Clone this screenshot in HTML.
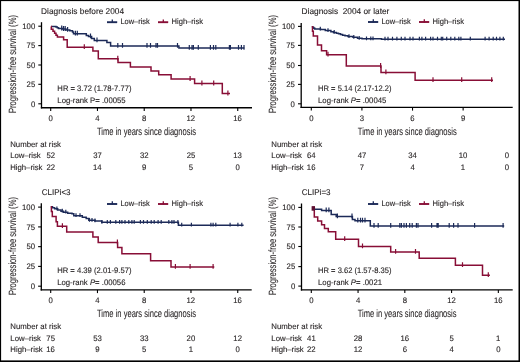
<!DOCTYPE html>
<html><head><meta charset="utf-8"><style>
html,body{margin:0;padding:0;background:#fff;overflow:hidden;}
svg{display:block;will-change:transform;text-rendering:geometricPrecision;}
text.ax{stroke-width:0.08px;}
text{stroke:#231f20;stroke-width:0.12px;paint-order:stroke;font-family:"Liberation Sans",sans-serif;}
</style></head><body>
<svg width="520" height="362" viewBox="0 0 520 362">
<rect x="0" y="0" width="520" height="362" fill="#fff"/>
<line x1="41.50" y1="22.20" x2="41.50" y2="108.40" stroke="#000" stroke-width="1.3"/>
<line x1="40.85" y1="107.75" x2="252.00" y2="107.75" stroke="#000" stroke-width="1.3"/>
<line x1="38.30" y1="26.20" x2="41.50" y2="26.20" stroke="#000" stroke-width="1.1"/>
<text x="22.27" y="28.90" font-size="8.0" fill="#231f20" textLength="12.93" lengthAdjust="spacingAndGlyphs">100</text>
<line x1="38.30" y1="45.60" x2="41.50" y2="45.60" stroke="#000" stroke-width="1.1"/>
<text x="26.60" y="48.30" font-size="8.0" fill="#231f20" textLength="8.62" lengthAdjust="spacingAndGlyphs">75</text>
<line x1="38.30" y1="65.00" x2="41.50" y2="65.00" stroke="#000" stroke-width="1.1"/>
<text x="26.58" y="67.70" font-size="8.0" fill="#231f20" textLength="8.62" lengthAdjust="spacingAndGlyphs">50</text>
<line x1="38.30" y1="84.30" x2="41.50" y2="84.30" stroke="#000" stroke-width="1.1"/>
<text x="26.60" y="87.00" font-size="8.0" fill="#231f20" textLength="8.62" lengthAdjust="spacingAndGlyphs">25</text>
<line x1="38.30" y1="103.80" x2="41.50" y2="103.80" stroke="#000" stroke-width="1.1"/>
<text x="30.89" y="106.50" font-size="8.0" fill="#231f20" textLength="4.31" lengthAdjust="spacingAndGlyphs">0</text>
<line x1="50.70" y1="107.75" x2="50.70" y2="110.95" stroke="#000" stroke-width="1.1"/>
<text x="48.54" y="120.85" font-size="8.0" fill="#231f20" textLength="4.31" lengthAdjust="spacingAndGlyphs">0</text>
<line x1="97.46" y1="107.75" x2="97.46" y2="110.95" stroke="#000" stroke-width="1.1"/>
<text x="95.33" y="120.85" font-size="8.0" fill="#231f20" textLength="4.31" lengthAdjust="spacingAndGlyphs">4</text>
<line x1="144.22" y1="107.75" x2="144.22" y2="110.95" stroke="#000" stroke-width="1.1"/>
<text x="142.07" y="120.85" font-size="8.0" fill="#231f20" textLength="4.31" lengthAdjust="spacingAndGlyphs">8</text>
<line x1="190.98" y1="107.75" x2="190.98" y2="110.95" stroke="#000" stroke-width="1.1"/>
<text x="186.57" y="120.85" font-size="8.0" fill="#231f20" textLength="8.62" lengthAdjust="spacingAndGlyphs">12</text>
<line x1="237.74" y1="107.75" x2="237.74" y2="110.95" stroke="#000" stroke-width="1.1"/>
<text x="233.30" y="120.85" font-size="8.0" fill="#231f20" textLength="8.62" lengthAdjust="spacingAndGlyphs">16</text>
<text x="41.12" y="14.00" font-size="8.4" fill="#231f20" textLength="82.92" lengthAdjust="spacingAndGlyphs">Diagnosis before 2004</text>
<text x="97.03" y="134.50" font-size="10.5" fill="#231f20" textLength="98.94" lengthAdjust="spacingAndGlyphs" class="ax">Time in years since diagnosis</text>
<text transform="translate(15.90,112.98) rotate(-90)" x="0" y="0" font-size="10.5" fill="#231f20" textLength="97.89" lengthAdjust="spacingAndGlyphs" class="ax">Progression-free survival (%)</text>
<line x1="107.00" y1="22.20" x2="117.20" y2="22.20" stroke="#1c2a58" stroke-width="1.9"/>
<line x1="112.30" y1="19.40" x2="112.30" y2="22.80" stroke="#1c2a58" stroke-width="1.3"/>
<text x="120.39" y="23.70" font-size="8.0" fill="#231f20" textLength="29.39" lengthAdjust="spacingAndGlyphs">Low–risk</text>
<line x1="158.00" y1="22.20" x2="168.20" y2="22.20" stroke="#880e36" stroke-width="1.9"/>
<line x1="163.30" y1="19.40" x2="163.30" y2="22.80" stroke="#880e36" stroke-width="1.3"/>
<text x="171.58" y="23.70" font-size="8.0" fill="#231f20" textLength="31.50" lengthAdjust="spacingAndGlyphs">High–risk</text>
<text x="57.37" y="90.80" font-size="8.0" fill="#231f20" textLength="74.10" lengthAdjust="spacingAndGlyphs">HR = 3.72 (1.78-7.77)</text>
<text x="57.36" y="102.70" font-size="8.0" fill="#231f20" textLength="68.29" lengthAdjust="spacingAndGlyphs">Log-rank P= .00055</text>
<text x="10.16" y="146.60" font-size="8.0" fill="#231f20" textLength="50.82" lengthAdjust="spacingAndGlyphs">Number at risk</text>
<text x="10.16" y="158.40" font-size="8.0" fill="#231f20" textLength="30.58" lengthAdjust="spacingAndGlyphs">Low–risk</text>
<text x="10.16" y="169.60" font-size="8.0" fill="#231f20" textLength="32.30" lengthAdjust="spacingAndGlyphs">High–risk</text>
<text x="46.43" y="158.40" font-size="8.0" fill="#231f20" textLength="8.62" lengthAdjust="spacingAndGlyphs">52</text>
<text x="46.39" y="169.60" font-size="8.0" fill="#231f20" textLength="8.62" lengthAdjust="spacingAndGlyphs">22</text>
<text x="93.20" y="158.40" font-size="8.0" fill="#231f20" textLength="8.62" lengthAdjust="spacingAndGlyphs">37</text>
<text x="92.97" y="169.60" font-size="8.0" fill="#231f20" textLength="8.62" lengthAdjust="spacingAndGlyphs">14</text>
<text x="139.96" y="158.40" font-size="8.0" fill="#231f20" textLength="8.62" lengthAdjust="spacingAndGlyphs">32</text>
<text x="142.07" y="169.60" font-size="8.0" fill="#231f20" textLength="4.31" lengthAdjust="spacingAndGlyphs">9</text>
<text x="186.64" y="158.40" font-size="8.0" fill="#231f20" textLength="8.62" lengthAdjust="spacingAndGlyphs">25</text>
<text x="188.83" y="169.60" font-size="8.0" fill="#231f20" textLength="4.31" lengthAdjust="spacingAndGlyphs">5</text>
<text x="233.30" y="158.40" font-size="8.0" fill="#231f20" textLength="8.62" lengthAdjust="spacingAndGlyphs">13</text>
<text x="235.58" y="169.60" font-size="8.0" fill="#231f20" textLength="4.31" lengthAdjust="spacingAndGlyphs">0</text>
<path d="M51.20,26.40H56.00V27.00H57.30V27.80H58.50V28.60H62.80V29.10H66.00V29.90H69.80V30.70H72.50V32.10H73.50V33.70H86.30V35.50H88.50V36.50H91.60V38.40H94.30V40.40H106.90V42.40H110.60V46.00H178.90V48.00H244.30V48.00" fill="none" stroke="#1c2a58" stroke-width="1.5" stroke-linejoin="miter"/>
<path d="M51.20,26.40H51.30V29.20H53.00V31.20H54.60V33.20H56.00V35.20H57.40V36.90H63.60V39.70H67.20V47.30H92.90V51.00H98.30V58.80H118.00V62.50H130.40V66.90H151.00V70.90H158.70V74.80H171.10V79.10H194.60V83.60H222.30V93.60H230.00V93.60" fill="none" stroke="#880e36" stroke-width="1.5" stroke-linejoin="miter"/>
<path d="M61.70,25.60V30.40M63.50,26.10V30.90M65.20,26.10V30.90M67.60,26.90V31.70M75.40,30.70V35.50M77.30,30.70V35.50M90.50,33.50V38.30M97.00,37.40V42.20M117.80,43.00V47.80M122.50,43.00V47.80M147.00,43.00V47.80M150.50,43.00V47.80M156.00,43.00V47.80M157.50,43.00V47.80M177.50,43.00V47.80M189.30,45.00V49.80M192.00,45.00V49.80M193.40,45.00V49.80M198.30,45.00V49.80M210.40,45.00V49.80M213.50,45.00V49.80M215.80,45.00V49.80M229.40,45.00V49.80M230.40,45.00V49.80M238.50,45.00V49.80M241.40,45.00V49.80M244.00,45.00V49.80" fill="none" stroke="#1c2a58" stroke-width="1.2"/>
<path d="M84.30,44.30V49.10M117.80,55.80V60.60M190.10,76.10V80.90M201.90,80.60V85.40M213.70,80.60V85.40M227.90,90.60V95.40" fill="none" stroke="#880e36" stroke-width="1.2"/>
<line x1="301.20" y1="23.00" x2="301.20" y2="108.05" stroke="#000" stroke-width="1.3"/>
<line x1="300.55" y1="107.40" x2="512.70" y2="107.40" stroke="#000" stroke-width="1.3"/>
<line x1="298.00" y1="26.40" x2="301.20" y2="26.40" stroke="#000" stroke-width="1.1"/>
<text x="281.97" y="29.10" font-size="8.0" fill="#231f20" textLength="12.93" lengthAdjust="spacingAndGlyphs">100</text>
<line x1="298.00" y1="45.40" x2="301.20" y2="45.40" stroke="#000" stroke-width="1.1"/>
<text x="286.30" y="48.10" font-size="8.0" fill="#231f20" textLength="8.62" lengthAdjust="spacingAndGlyphs">75</text>
<line x1="298.00" y1="65.50" x2="301.20" y2="65.50" stroke="#000" stroke-width="1.1"/>
<text x="286.28" y="68.20" font-size="8.0" fill="#231f20" textLength="8.62" lengthAdjust="spacingAndGlyphs">50</text>
<line x1="298.00" y1="84.40" x2="301.20" y2="84.40" stroke="#000" stroke-width="1.1"/>
<text x="286.30" y="87.10" font-size="8.0" fill="#231f20" textLength="8.62" lengthAdjust="spacingAndGlyphs">25</text>
<line x1="298.00" y1="103.80" x2="301.20" y2="103.80" stroke="#000" stroke-width="1.1"/>
<text x="290.59" y="106.50" font-size="8.0" fill="#231f20" textLength="4.31" lengthAdjust="spacingAndGlyphs">0</text>
<line x1="311.30" y1="107.40" x2="311.30" y2="110.60" stroke="#000" stroke-width="1.1"/>
<text x="309.14" y="120.50" font-size="8.0" fill="#231f20" textLength="4.31" lengthAdjust="spacingAndGlyphs">0</text>
<line x1="361.91" y1="107.40" x2="361.91" y2="110.60" stroke="#000" stroke-width="1.1"/>
<text x="359.77" y="120.50" font-size="8.0" fill="#231f20" textLength="4.31" lengthAdjust="spacingAndGlyphs">3</text>
<line x1="412.52" y1="107.40" x2="412.52" y2="110.60" stroke="#000" stroke-width="1.1"/>
<text x="410.34" y="120.50" font-size="8.0" fill="#231f20" textLength="4.31" lengthAdjust="spacingAndGlyphs">6</text>
<line x1="463.13" y1="107.40" x2="463.13" y2="110.60" stroke="#000" stroke-width="1.1"/>
<text x="460.98" y="120.50" font-size="8.0" fill="#231f20" textLength="4.31" lengthAdjust="spacingAndGlyphs">9</text>
<text x="301.62" y="13.90" font-size="8.4" fill="#231f20" textLength="87.71" lengthAdjust="spacingAndGlyphs">Diagnosis  2004 or later</text>
<text x="357.83" y="134.50" font-size="10.5" fill="#231f20" textLength="98.94" lengthAdjust="spacingAndGlyphs" class="ax">Time in years since diagnosis</text>
<text transform="translate(276.20,112.98) rotate(-90)" x="0" y="0" font-size="10.5" fill="#231f20" textLength="97.89" lengthAdjust="spacingAndGlyphs" class="ax">Progression-free survival (%)</text>
<line x1="368.00" y1="22.00" x2="378.20" y2="22.00" stroke="#1c2a58" stroke-width="1.9"/>
<line x1="373.30" y1="19.20" x2="373.30" y2="22.60" stroke="#1c2a58" stroke-width="1.3"/>
<text x="381.39" y="23.50" font-size="8.0" fill="#231f20" textLength="29.39" lengthAdjust="spacingAndGlyphs">Low–risk</text>
<line x1="419.00" y1="22.00" x2="429.20" y2="22.00" stroke="#880e36" stroke-width="1.9"/>
<line x1="424.30" y1="19.20" x2="424.30" y2="22.60" stroke="#880e36" stroke-width="1.3"/>
<text x="432.58" y="23.50" font-size="8.0" fill="#231f20" textLength="31.50" lengthAdjust="spacingAndGlyphs">High–risk</text>
<text x="318.08" y="90.70" font-size="8.0" fill="#231f20" textLength="73.39" lengthAdjust="spacingAndGlyphs">HR = 5.14 (2.17-12.2)</text>
<text x="318.06" y="102.60" font-size="8.0" fill="#231f20" textLength="68.29" lengthAdjust="spacingAndGlyphs">Log-rank <tspan font-style="italic">P</tspan>= .00045</text>
<text x="271.36" y="146.60" font-size="8.0" fill="#231f20" textLength="50.82" lengthAdjust="spacingAndGlyphs">Number at risk</text>
<text x="271.36" y="158.40" font-size="8.0" fill="#231f20" textLength="30.58" lengthAdjust="spacingAndGlyphs">Low–risk</text>
<text x="271.36" y="169.60" font-size="8.0" fill="#231f20" textLength="32.30" lengthAdjust="spacingAndGlyphs">High–risk</text>
<text x="306.91" y="158.40" font-size="8.0" fill="#231f20" textLength="8.62" lengthAdjust="spacingAndGlyphs">64</text>
<text x="306.86" y="169.60" font-size="8.0" fill="#231f20" textLength="8.62" lengthAdjust="spacingAndGlyphs">16</text>
<text x="357.71" y="158.40" font-size="8.0" fill="#231f20" textLength="8.62" lengthAdjust="spacingAndGlyphs">47</text>
<text x="359.75" y="169.60" font-size="8.0" fill="#231f20" textLength="4.31" lengthAdjust="spacingAndGlyphs">7</text>
<text x="408.18" y="158.40" font-size="8.0" fill="#231f20" textLength="8.62" lengthAdjust="spacingAndGlyphs">34</text>
<text x="410.39" y="169.60" font-size="8.0" fill="#231f20" textLength="4.31" lengthAdjust="spacingAndGlyphs">4</text>
<text x="458.67" y="158.40" font-size="8.0" fill="#231f20" textLength="8.62" lengthAdjust="spacingAndGlyphs">10</text>
<text x="460.87" y="169.60" font-size="8.0" fill="#231f20" textLength="4.31" lengthAdjust="spacingAndGlyphs">1</text>
<text x="504.64" y="158.40" font-size="8.0" fill="#231f20" textLength="4.31" lengthAdjust="spacingAndGlyphs">0</text>
<text x="504.64" y="169.60" font-size="8.0" fill="#231f20" textLength="4.31" lengthAdjust="spacingAndGlyphs">0</text>
<path d="M311.80,26.70H312.80V27.50H313.80V28.30H314.80V29.10H320.50V29.60H325.30V30.60H330.90V31.70H333.50V32.40H336.40V33.20H338.50V33.80H340.50V34.50H342.60V35.20H345.00V35.80H348.00V36.60H353.00V37.30H357.50V38.30H362.00V38.80H381.50V39.20H505.00V39.20" fill="none" stroke="#1c2a58" stroke-width="1.5" stroke-linejoin="miter"/>
<path d="M311.80,26.70H312.50V31.20H313.30V35.90H317.50V45.00H321.50V50.70H326.60V54.80H346.30V66.10H381.00V72.50H415.10V80.20H493.00V80.20" fill="none" stroke="#880e36" stroke-width="1.5" stroke-linejoin="miter"/>
<path d="M320.30,26.70V30.50M328.00,28.20V32.00M334.20,30.00V33.80M349.00,34.20V38.00M353.80,34.90V38.70M359.20,35.90V39.70M366.50,36.40V40.20M370.80,36.40V40.20M373.00,36.40V40.20M385.00,36.80V40.60M388.00,36.80V40.60M392.50,36.80V40.60M396.90,36.80V40.60M401.30,36.80V40.60M405.00,36.80V40.60M410.00,36.80V40.60M413.00,36.80V40.60M419.40,36.80V40.60M421.90,36.80V40.60M425.60,36.80V40.60M430.60,36.80V40.60M433.00,36.80V40.60M437.50,36.80V40.60M441.30,36.80V40.60M442.70,36.80V40.60M446.70,36.80V40.60M450.80,36.80V40.60M454.80,36.80V40.60M458.80,36.80V40.60M460.90,36.80V40.60M470.30,36.80V40.60M485.10,36.80V40.60M489.10,36.80V40.60M493.20,36.80V40.60M496.50,36.80V40.60M499.90,36.80V40.60M503.30,36.80V40.60" fill="none" stroke="#1c2a58" stroke-width="1.2"/>
<path d="M328.00,51.80V56.60M380.60,63.10V67.90M385.90,69.50V74.30M433.00,77.20V82.00M461.70,77.20V82.00M491.70,77.20V82.00" fill="none" stroke="#880e36" stroke-width="1.2"/>
<line x1="41.30" y1="203.20" x2="41.30" y2="290.55" stroke="#000" stroke-width="1.3"/>
<line x1="40.65" y1="289.90" x2="251.70" y2="289.90" stroke="#000" stroke-width="1.3"/>
<line x1="38.10" y1="207.10" x2="41.30" y2="207.10" stroke="#000" stroke-width="1.1"/>
<text x="22.07" y="209.80" font-size="8.0" fill="#231f20" textLength="12.93" lengthAdjust="spacingAndGlyphs">100</text>
<line x1="38.10" y1="226.90" x2="41.30" y2="226.90" stroke="#000" stroke-width="1.1"/>
<text x="26.40" y="229.60" font-size="8.0" fill="#231f20" textLength="8.62" lengthAdjust="spacingAndGlyphs">75</text>
<line x1="38.10" y1="246.65" x2="41.30" y2="246.65" stroke="#000" stroke-width="1.1"/>
<text x="26.38" y="249.35" font-size="8.0" fill="#231f20" textLength="8.62" lengthAdjust="spacingAndGlyphs">50</text>
<line x1="38.10" y1="266.40" x2="41.30" y2="266.40" stroke="#000" stroke-width="1.1"/>
<text x="26.40" y="269.10" font-size="8.0" fill="#231f20" textLength="8.62" lengthAdjust="spacingAndGlyphs">25</text>
<line x1="38.10" y1="286.20" x2="41.30" y2="286.20" stroke="#000" stroke-width="1.1"/>
<text x="30.69" y="288.90" font-size="8.0" fill="#231f20" textLength="4.31" lengthAdjust="spacingAndGlyphs">0</text>
<line x1="50.70" y1="289.90" x2="50.70" y2="293.10" stroke="#000" stroke-width="1.1"/>
<text x="48.54" y="303.00" font-size="8.0" fill="#231f20" textLength="4.31" lengthAdjust="spacingAndGlyphs">0</text>
<line x1="97.46" y1="289.90" x2="97.46" y2="293.10" stroke="#000" stroke-width="1.1"/>
<text x="95.33" y="303.00" font-size="8.0" fill="#231f20" textLength="4.31" lengthAdjust="spacingAndGlyphs">4</text>
<line x1="144.22" y1="289.90" x2="144.22" y2="293.10" stroke="#000" stroke-width="1.1"/>
<text x="142.07" y="303.00" font-size="8.0" fill="#231f20" textLength="4.31" lengthAdjust="spacingAndGlyphs">8</text>
<line x1="190.98" y1="289.90" x2="190.98" y2="293.10" stroke="#000" stroke-width="1.1"/>
<text x="186.57" y="303.00" font-size="8.0" fill="#231f20" textLength="8.62" lengthAdjust="spacingAndGlyphs">12</text>
<line x1="237.74" y1="289.90" x2="237.74" y2="293.10" stroke="#000" stroke-width="1.1"/>
<text x="233.30" y="303.00" font-size="8.0" fill="#231f20" textLength="8.62" lengthAdjust="spacingAndGlyphs">16</text>
<text x="41.80" y="195.20" font-size="8.4" fill="#231f20" textLength="28.75" lengthAdjust="spacingAndGlyphs">CLIPi&lt;3</text>
<text x="97.03" y="316.90" font-size="10.5" fill="#231f20" textLength="98.94" lengthAdjust="spacingAndGlyphs" class="ax">Time in years since diagnosis</text>
<text transform="translate(16.10,294.98) rotate(-90)" x="0" y="0" font-size="10.5" fill="#231f20" textLength="97.89" lengthAdjust="spacingAndGlyphs" class="ax">Progression-free survival (%)</text>
<line x1="107.00" y1="204.00" x2="117.20" y2="204.00" stroke="#1c2a58" stroke-width="1.9"/>
<line x1="112.30" y1="201.20" x2="112.30" y2="204.60" stroke="#1c2a58" stroke-width="1.3"/>
<text x="120.39" y="205.50" font-size="8.0" fill="#231f20" textLength="29.39" lengthAdjust="spacingAndGlyphs">Low–risk</text>
<line x1="158.00" y1="204.00" x2="168.20" y2="204.00" stroke="#880e36" stroke-width="1.9"/>
<line x1="163.30" y1="201.20" x2="163.30" y2="204.60" stroke="#880e36" stroke-width="1.3"/>
<text x="171.58" y="205.50" font-size="8.0" fill="#231f20" textLength="31.50" lengthAdjust="spacingAndGlyphs">High–risk</text>
<text x="57.17" y="272.70" font-size="8.0" fill="#231f20" textLength="74.30" lengthAdjust="spacingAndGlyphs">HR = 4.39 (2.01-9.57)</text>
<text x="57.16" y="284.60" font-size="8.0" fill="#231f20" textLength="68.29" lengthAdjust="spacingAndGlyphs">Log-rank <tspan font-style="italic">P</tspan>= .00056</text>
<text x="10.36" y="328.90" font-size="8.0" fill="#231f20" textLength="50.82" lengthAdjust="spacingAndGlyphs">Number at risk</text>
<text x="10.36" y="340.70" font-size="8.0" fill="#231f20" textLength="30.58" lengthAdjust="spacingAndGlyphs">Low–risk</text>
<text x="10.36" y="351.90" font-size="8.0" fill="#231f20" textLength="32.30" lengthAdjust="spacingAndGlyphs">High–risk</text>
<text x="46.35" y="340.70" font-size="8.0" fill="#231f20" textLength="8.62" lengthAdjust="spacingAndGlyphs">75</text>
<text x="46.26" y="351.90" font-size="8.0" fill="#231f20" textLength="8.62" lengthAdjust="spacingAndGlyphs">16</text>
<text x="93.16" y="340.70" font-size="8.0" fill="#231f20" textLength="8.62" lengthAdjust="spacingAndGlyphs">53</text>
<text x="95.31" y="351.90" font-size="8.0" fill="#231f20" textLength="4.31" lengthAdjust="spacingAndGlyphs">9</text>
<text x="139.93" y="340.70" font-size="8.0" fill="#231f20" textLength="8.62" lengthAdjust="spacingAndGlyphs">33</text>
<text x="142.07" y="351.90" font-size="8.0" fill="#231f20" textLength="4.31" lengthAdjust="spacingAndGlyphs">5</text>
<text x="186.62" y="340.70" font-size="8.0" fill="#231f20" textLength="8.62" lengthAdjust="spacingAndGlyphs">20</text>
<text x="188.72" y="351.90" font-size="8.0" fill="#231f20" textLength="4.31" lengthAdjust="spacingAndGlyphs">1</text>
<text x="233.33" y="340.70" font-size="8.0" fill="#231f20" textLength="8.62" lengthAdjust="spacingAndGlyphs">12</text>
<text x="235.58" y="351.90" font-size="8.0" fill="#231f20" textLength="4.31" lengthAdjust="spacingAndGlyphs">0</text>
<path d="M50.80,206.80H52.50V207.80H54.60V208.80H57.70V210.00H61.00V211.20H63.50V212.20H67.70V213.20H72.00V213.80H73.80V215.70H82.30V217.20H86.20V218.40H88.80V220.30H95.00V220.90H101.80V222.30H178.40V225.20H243.60V225.20" fill="none" stroke="#1c2a58" stroke-width="1.5" stroke-linejoin="miter"/>
<path d="M50.80,206.80H51.40V211.40H52.30V216.60H56.10V221.70H57.40V226.30H66.70V232.00H92.90V236.90H98.20V242.50H117.60V247.60H121.90V253.80H150.60V260.80H171.00V267.00H214.30V267.00" fill="none" stroke="#880e36" stroke-width="1.5" stroke-linejoin="miter"/>
<path d="M56.90,206.40V210.20M62.30,208.80V212.60M65.80,209.80V213.60M76.00,213.30V217.10M80.00,213.30V217.10M89.50,217.90V221.70M92.00,217.90V221.70M95.00,218.50V222.30M101.90,219.90V223.70M107.30,219.90V223.70M110.40,219.90V223.70M115.80,219.90V223.70M119.60,219.90V223.70M121.90,219.90V223.70M125.00,219.90V223.70M128.80,219.90V223.70M131.90,219.90V223.70M134.20,219.90V223.70M140.40,219.90V223.70M143.50,219.90V223.70M147.30,219.90V223.70M151.20,219.90V223.70M154.20,219.90V223.70M158.10,219.90V223.70M161.20,219.90V223.70M168.80,219.90V223.70M171.90,219.90V223.70M174.00,219.90V223.70M177.90,219.90V223.70M181.70,222.80V226.60M191.40,222.80V226.60M210.90,222.80V226.60M213.10,222.80V226.60M215.80,222.80V226.60M230.10,222.80V226.60M237.90,222.80V226.60M241.80,222.80V226.60" fill="none" stroke="#1c2a58" stroke-width="1.2"/>
<path d="M62.40,223.30V228.10M117.40,239.50V244.30M175.40,264.00V268.80M190.10,264.00V268.80M213.10,264.00V268.80" fill="none" stroke="#880e36" stroke-width="1.2"/>
<line x1="301.50" y1="203.50" x2="301.50" y2="290.55" stroke="#000" stroke-width="1.3"/>
<line x1="300.85" y1="289.90" x2="512.70" y2="289.90" stroke="#000" stroke-width="1.3"/>
<line x1="298.30" y1="207.40" x2="301.50" y2="207.40" stroke="#000" stroke-width="1.1"/>
<text x="282.27" y="210.10" font-size="8.0" fill="#231f20" textLength="12.93" lengthAdjust="spacingAndGlyphs">100</text>
<line x1="298.30" y1="227.00" x2="301.50" y2="227.00" stroke="#000" stroke-width="1.1"/>
<text x="286.60" y="229.70" font-size="8.0" fill="#231f20" textLength="8.62" lengthAdjust="spacingAndGlyphs">75</text>
<line x1="298.30" y1="246.50" x2="301.50" y2="246.50" stroke="#000" stroke-width="1.1"/>
<text x="286.58" y="249.20" font-size="8.0" fill="#231f20" textLength="8.62" lengthAdjust="spacingAndGlyphs">50</text>
<line x1="298.30" y1="266.60" x2="301.50" y2="266.60" stroke="#000" stroke-width="1.1"/>
<text x="286.60" y="269.30" font-size="8.0" fill="#231f20" textLength="8.62" lengthAdjust="spacingAndGlyphs">25</text>
<line x1="298.30" y1="286.10" x2="301.50" y2="286.10" stroke="#000" stroke-width="1.1"/>
<text x="290.89" y="288.80" font-size="8.0" fill="#231f20" textLength="4.31" lengthAdjust="spacingAndGlyphs">0</text>
<line x1="311.30" y1="289.90" x2="311.30" y2="293.10" stroke="#000" stroke-width="1.1"/>
<text x="309.14" y="303.00" font-size="8.0" fill="#231f20" textLength="4.31" lengthAdjust="spacingAndGlyphs">0</text>
<line x1="358.06" y1="289.90" x2="358.06" y2="293.10" stroke="#000" stroke-width="1.1"/>
<text x="355.93" y="303.00" font-size="8.0" fill="#231f20" textLength="4.31" lengthAdjust="spacingAndGlyphs">4</text>
<line x1="404.82" y1="289.90" x2="404.82" y2="293.10" stroke="#000" stroke-width="1.1"/>
<text x="402.67" y="303.00" font-size="8.0" fill="#231f20" textLength="4.31" lengthAdjust="spacingAndGlyphs">8</text>
<line x1="451.58" y1="289.90" x2="451.58" y2="293.10" stroke="#000" stroke-width="1.1"/>
<text x="447.17" y="303.00" font-size="8.0" fill="#231f20" textLength="8.62" lengthAdjust="spacingAndGlyphs">12</text>
<line x1="498.34" y1="289.90" x2="498.34" y2="293.10" stroke="#000" stroke-width="1.1"/>
<text x="493.90" y="303.00" font-size="8.0" fill="#231f20" textLength="8.62" lengthAdjust="spacingAndGlyphs">16</text>
<text x="301.80" y="195.20" font-size="8.4" fill="#231f20" textLength="28.75" lengthAdjust="spacingAndGlyphs">CLIPi=3</text>
<text x="357.63" y="316.90" font-size="10.5" fill="#231f20" textLength="98.94" lengthAdjust="spacingAndGlyphs" class="ax">Time in years since diagnosis</text>
<text transform="translate(276.20,294.98) rotate(-90)" x="0" y="0" font-size="10.5" fill="#231f20" textLength="97.89" lengthAdjust="spacingAndGlyphs" class="ax">Progression-free survival (%)</text>
<line x1="368.00" y1="204.00" x2="378.20" y2="204.00" stroke="#1c2a58" stroke-width="1.9"/>
<line x1="373.30" y1="201.20" x2="373.30" y2="204.60" stroke="#1c2a58" stroke-width="1.3"/>
<text x="381.39" y="205.50" font-size="8.0" fill="#231f20" textLength="29.39" lengthAdjust="spacingAndGlyphs">Low–risk</text>
<line x1="419.00" y1="204.00" x2="429.20" y2="204.00" stroke="#880e36" stroke-width="1.9"/>
<line x1="424.30" y1="201.20" x2="424.30" y2="204.60" stroke="#880e36" stroke-width="1.3"/>
<text x="432.58" y="205.50" font-size="8.0" fill="#231f20" textLength="31.50" lengthAdjust="spacingAndGlyphs">High–risk</text>
<text x="318.08" y="272.70" font-size="8.0" fill="#231f20" textLength="73.39" lengthAdjust="spacingAndGlyphs">HR = 3.62 (1.57-8.35)</text>
<text x="318.06" y="284.60" font-size="8.0" fill="#231f20" textLength="63.98" lengthAdjust="spacingAndGlyphs">Log-rank <tspan font-style="italic">P</tspan>= .0021</text>
<text x="271.36" y="328.90" font-size="8.0" fill="#231f20" textLength="50.82" lengthAdjust="spacingAndGlyphs">Number at risk</text>
<text x="271.36" y="340.70" font-size="8.0" fill="#231f20" textLength="30.58" lengthAdjust="spacingAndGlyphs">Low–risk</text>
<text x="271.36" y="351.90" font-size="8.0" fill="#231f20" textLength="32.30" lengthAdjust="spacingAndGlyphs">High–risk</text>
<text x="307.09" y="340.70" font-size="8.0" fill="#231f20" textLength="8.62" lengthAdjust="spacingAndGlyphs">41</text>
<text x="306.99" y="351.90" font-size="8.0" fill="#231f20" textLength="8.62" lengthAdjust="spacingAndGlyphs">22</text>
<text x="353.72" y="340.70" font-size="8.0" fill="#231f20" textLength="8.62" lengthAdjust="spacingAndGlyphs">28</text>
<text x="353.65" y="351.90" font-size="8.0" fill="#231f20" textLength="8.62" lengthAdjust="spacingAndGlyphs">12</text>
<text x="400.38" y="340.70" font-size="8.0" fill="#231f20" textLength="8.62" lengthAdjust="spacingAndGlyphs">16</text>
<text x="402.64" y="351.90" font-size="8.0" fill="#231f20" textLength="4.31" lengthAdjust="spacingAndGlyphs">6</text>
<text x="449.43" y="340.70" font-size="8.0" fill="#231f20" textLength="4.31" lengthAdjust="spacingAndGlyphs">5</text>
<text x="449.45" y="351.90" font-size="8.0" fill="#231f20" textLength="4.31" lengthAdjust="spacingAndGlyphs">4</text>
<text x="496.08" y="340.70" font-size="8.0" fill="#231f20" textLength="4.31" lengthAdjust="spacingAndGlyphs">1</text>
<text x="496.18" y="351.90" font-size="8.0" fill="#231f20" textLength="4.31" lengthAdjust="spacingAndGlyphs">0</text>
<path d="M313.00,209.20H321.60V210.50H331.20V214.40H336.20V216.50H352.40V219.60H355.00V220.80H370.30V226.00H504.20V226.00" fill="none" stroke="#1c2a58" stroke-width="1.5" stroke-linejoin="miter"/>
<path d="M312.20,207.30H314.30V217.00H317.70V221.00H321.60V224.80H324.50V228.40H328.30V231.80H335.70V239.30H358.50V246.50H390.70V251.90H419.20V258.20H455.40V265.20H482.50V275.20H489.90V275.20" fill="none" stroke="#880e36" stroke-width="1.5" stroke-linejoin="miter"/>
<path d="M326.20,207.50V212.30M328.90,207.50V212.30M337.40,213.50V218.30M352.00,213.50V218.30M357.80,217.80V222.60M360.50,217.80V222.60M362.50,217.80V222.60M365.00,217.80V222.60M374.00,223.00V227.80M378.20,223.00V227.80M390.70,223.00V227.80M399.80,223.00V227.80M401.40,223.00V227.80M404.00,223.00V227.80M406.40,223.00V227.80M409.70,223.00V227.80M412.20,223.00V227.80M416.40,223.00V227.80M418.00,223.00V227.80M431.60,223.00V227.80M437.00,223.00V227.80M438.20,223.00V227.80M449.20,223.00V227.80M453.60,223.00V227.80M458.00,223.00V227.80M474.60,223.00V227.80M503.10,223.00V227.80" fill="none" stroke="#1c2a58" stroke-width="1.2"/>
<path d="M344.70,236.30V241.10M362.50,243.50V248.30M395.60,248.90V253.70M415.50,248.90V253.70M462.50,262.20V267.00M488.30,272.20V277.00" fill="none" stroke="#880e36" stroke-width="1.2"/>
<rect x="311.6" y="206.2" width="3.4" height="4.5" fill="#5c1032"/>
<rect x="0" y="0" width="520" height="1.1" fill="#000"/><rect x="0" y="0" width="1.1" height="362" fill="#000"/><rect x="518.5" y="0" width="1.5" height="362" fill="#000"/><rect x="0" y="360.4" width="520" height="1.6" fill="#000"/>
</svg>
</body></html>
